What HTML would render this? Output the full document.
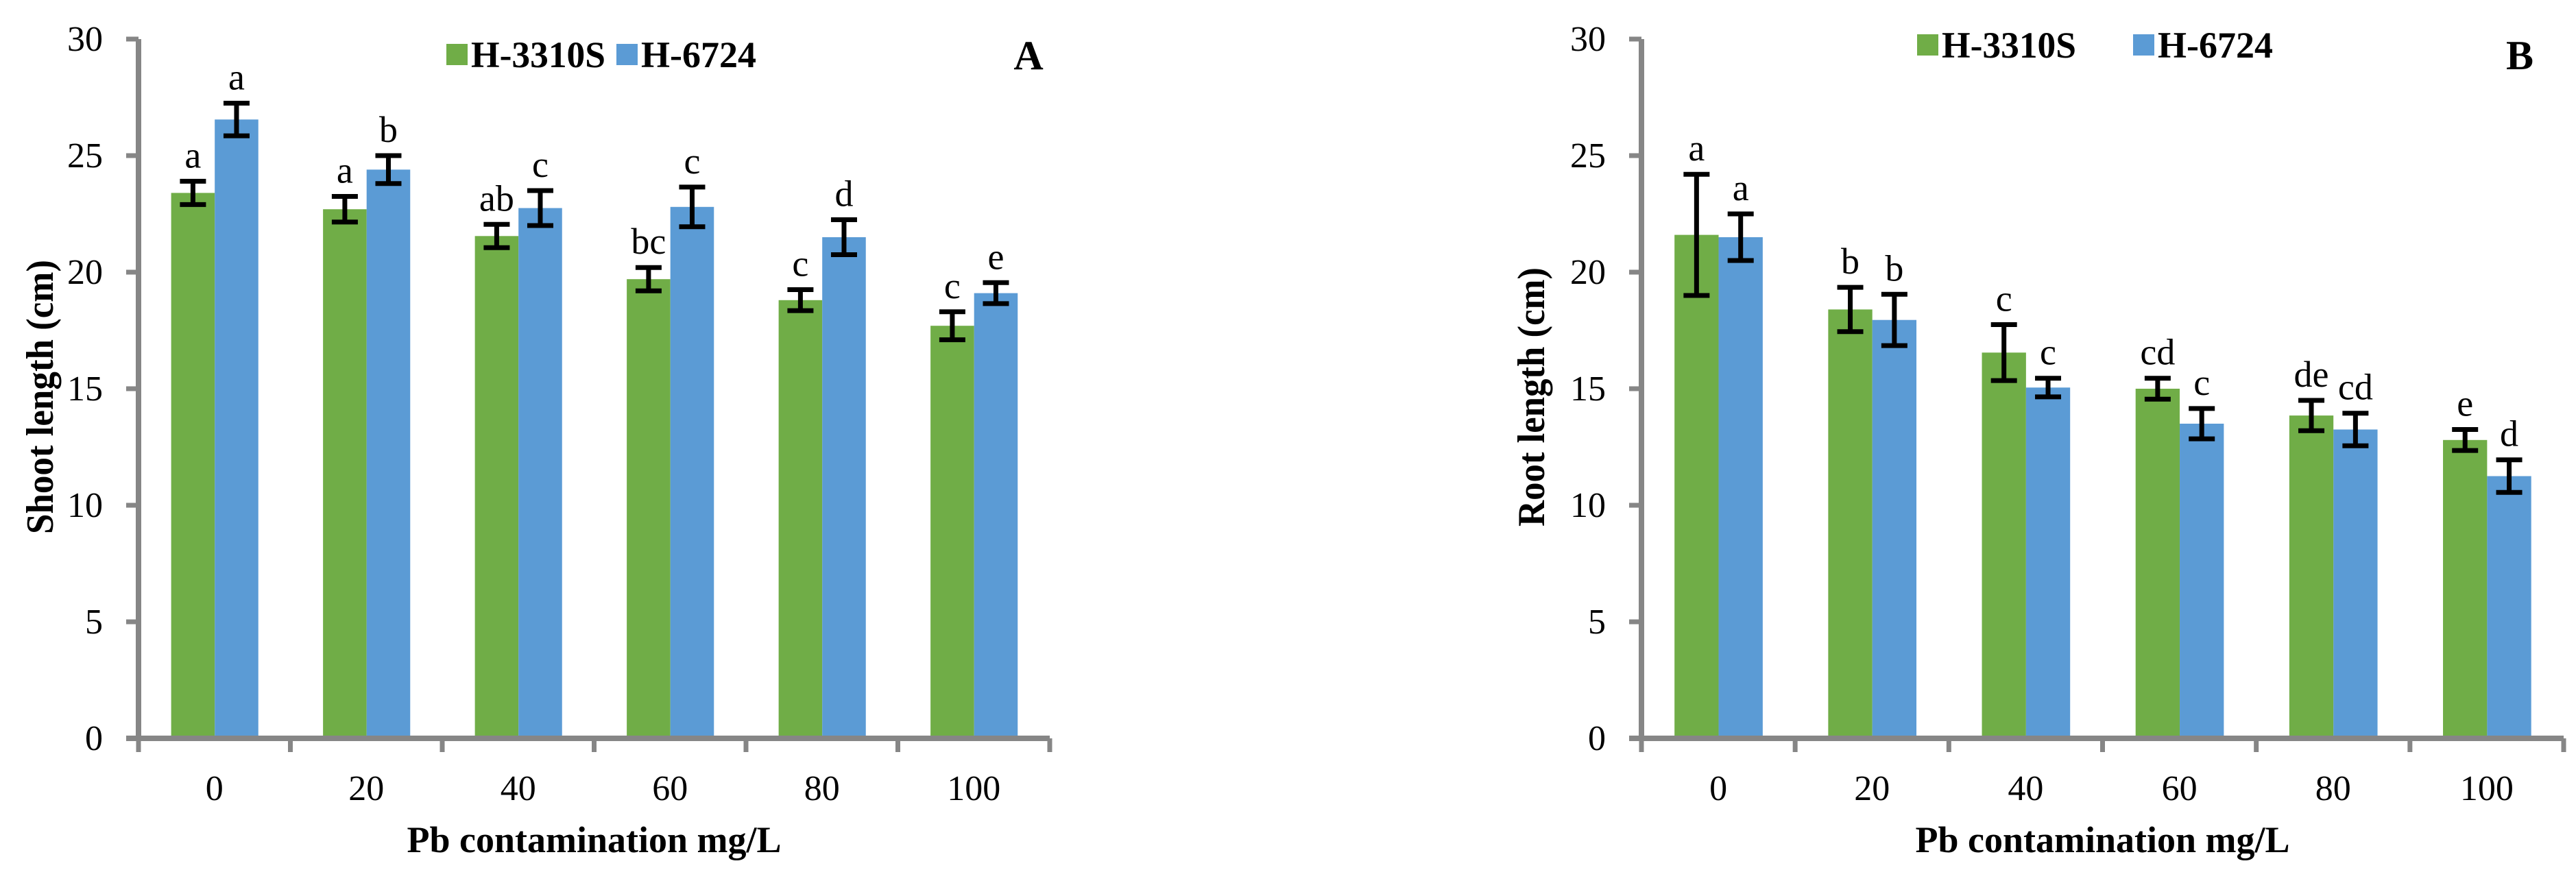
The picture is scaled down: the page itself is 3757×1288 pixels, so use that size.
<!DOCTYPE html>
<html><head><meta charset="utf-8">
<style>
html,body{margin:0;padding:0;background:#fff;}
svg{display:block;font-family:"Liberation Serif",serif;}
</style></head>
<body>
<svg id="chart" width="3757" height="1288" viewBox="0 0 3757 1288" xmlns="http://www.w3.org/2000/svg"></svg>
<script>
const categories = ["0","20","40","60","80","100"];
const yTicks = [0,5,10,15,20,25,30];
const seriesNames = ["H-3310S","H-6724"];
const shootGreen = [23.4,22.7,21.55,19.7,18.8,17.7];
const shootGreenErr = [0.5,0.55,0.5,0.5,0.45,0.6];
const shootBlue = [26.55,24.4,22.75,22.8,21.5,19.1];
const shootBlueErr = [0.7,0.6,0.75,0.85,0.75,0.45];
const shootGreenLetters = ["a","a","ab","bc","c","c"];
const shootBlueLetters = ["a","b","c","c","d","e"];
const rootGreen = [21.6,18.4,16.55,15.0,13.85,12.8];
const rootGreenErr = [2.6,0.95,1.2,0.45,0.65,0.45];
const rootBlue = [21.5,17.95,15.05,13.5,13.25,11.25];
const rootBlueErr = [1.0,1.1,0.4,0.65,0.7,0.7];
const rootGreenLetters = ["a","b","c","cd","de","e"];
const rootBlueLetters = ["a","b","c","c","cd","d"];

const NS="http://www.w3.org/2000/svg";
const svg=document.getElementById('chart');
function mk(tag,attrs,parent){const e=document.createElementNS(NS,tag);for(const k in attrs)e.setAttribute(k,attrs[k]);(parent||svg).appendChild(e);return e;}

function drawPanel(p){
  const g=mk('g',{});
  
  
  const x0=p.x0,x1=p.x1,yZero=1077,yTop=57,yMax=30;
  const ys=v=>yZero-(v/yMax)*(yZero-yTop);
  const cw=(x1-x0)/categories.length;
  const bw=cw*0.287, off=cw*0.215;
  categories.forEach((c,i)=>{
    const gx=x0+i*cw+off;
    [[p.g,p.ge,p.gl,'#70AD47','green'],[p.b,p.be,p.bl,'#5B9BD5','blue']].forEach((s,j)=>{
      const v=s[0][i],e=s[1][i],bx=gx+j*bw,cx=bx+bw/2;
      const r=mk('rect',{x:bx,y:ys(v),width:bw,height:yZero-ys(v),fill:s[3]},g);
      
      
      const eb=mk('path',{d:`M${cx},${ys(v+e)}V${ys(v-e)}M${cx-19},${ys(v+e)}H${cx+19}M${cx-19},${ys(v-e)}H${cx+19}`,stroke:'#000','stroke-width':7,fill:'none'},g);
      
      
      const t=mk('text',{x:cx,y:ys(v+e)-20,'text-anchor':'middle','font-size':54},g);
      t.textContent=s[2][i];
      
      
    });
    const tl=mk('text',{x:x0+(i+0.5)*cw,y:1167,'text-anchor':'middle','font-size':52},g);
    tl.textContent=c;
    
    
  });
  const ax=mk('path',{d:`M${x0},${yTop}V${yZero}M${x0-18},${yZero}H${x1}`,stroke:'#868686','stroke-width':8,fill:'none'},g);
  
  
  let td='';
  yTicks.forEach(t=>{td+=`M${x0-18},${ys(t)}H${x0}`;});
  for(let i=0;i<=categories.length;i++){const tx=x0+i*cw;td+=`M${tx},${yZero}V${yZero+20}`;}
  const tk=mk('path',{d:td,stroke:'#868686','stroke-width':7,fill:'none'},g);
  
  
  yTicks.forEach(t=>{
    const l=mk('text',{x:x0-52,y:ys(t)+17,'text-anchor':'end','font-size':52},g);
    l.textContent=t;
    
    
  });
  const yt=mk('text',{x:0,y:0,transform:`translate(${p.ytx},579) rotate(-90)`,'text-anchor':'middle','font-size':56,'font-weight':'bold',textLength:p.ytlen,lengthAdjust:'spacingAndGlyphs'},g);
  yt.textContent=p.ytitle;
  
  
  const xt=mk('text',{x:(x0+x1)/2,y:1243,'text-anchor':'middle','font-size':54,'font-weight':'bold'},g);
  xt.textContent='Pb contamination mg/L';
  
  
  [[p.lg,'#70AD47',0,196],[p.lb,'#5B9BD5',1,168]].forEach(L=>{
    const sq=mk('rect',{x:L[0],y:p.ly-16,width:31,height:31,fill:L[1]},g);
    
    
    const lt=mk('text',{x:L[0]+36,y:p.ly+18,'font-size':54,'font-weight':'bold',textLength:L[3],lengthAdjust:'spacingAndGlyphs'},g);
    lt.textContent=seriesNames[L[2]];
    
    
  });
  const pl=mk('text',{x:p.plx,y:101,'text-anchor':'middle','font-size':60,'font-weight':'bold'},g);
  pl.textContent=p.label;
  
  
}
drawPanel({id:'shoot',x0:202,x1:1531,g:shootGreen,ge:shootGreenErr,gl:shootGreenLetters,b:shootBlue,be:shootBlueErr,bl:shootBlueLetters,ytitle:'Shoot length (cm)',ytx:77,ytlen:400,lg:651,lb:899,ly:80,label:'A',plx:1500});
drawPanel({id:'root',x0:2394,x1:3739,g:rootGreen,ge:rootGreenErr,gl:rootGreenLetters,b:rootBlue,be:rootBlueErr,bl:rootBlueLetters,ytitle:'Root length (cm)',ytx:2252,ytlen:378,lg:2796,lb:3111,ly:66,label:'B',plx:3675});
</script>
</body></html>
